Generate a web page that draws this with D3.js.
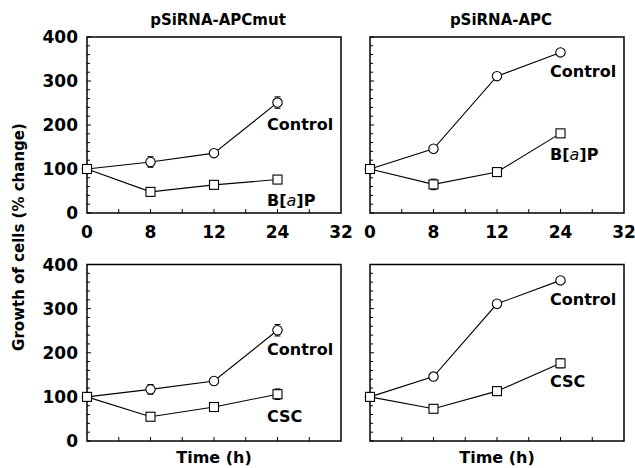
<!DOCTYPE html>
<html><head><meta charset="utf-8">
<script src="https://cdn.jsdelivr.net/npm/d3@7"></script>
<style>body{margin:0;background:#fff}svg{display:block}text{font-family:"DejaVu Sans",Verdana,sans-serif;font-weight:bold;fill:#000}</style>
</head><body><svg id="c" width="635" height="468"></svg>
<script>
const timeLabels = ["0","8","12","24","32"];
const times = ["0","8","12","24"];
const yTicks = [0,100,200,300,400];
const titles = ["pSiRNA-APCmut","pSiRNA-APC"];

const mutControlA = [100,116,136,251];
const mutControlAErr = [6,12,5,13];
const mutBaP = [100,48,64,76];
const mutBaPErr = [5,4,8,3];
const apcControlA = [100,146,311,365];
const apcControlAErr = [5,3,4,3];
const apcBaP = [100,65,93,181];
const apcBaPErr = [5,12,4,3];
const mutControlB = [100,117,136,251];
const mutControlBErr = [6,11,4,13];
const mutCSC = [100,55,77,106];
const mutCSCErr = [5,8,6,12];
const apcControlB = [100,146,311,364];
const apcControlBErr = [5,3,4,3];
const apcCSC = [100,73,113,176];
const apcCSCErr = [5,7,4,10];

const svg = d3.select("#c");
const cols = [{l:87,r:341},{l:370,r:624}];
const rows = [{t:37,b:213},{t:264.5,b:441}];

const panels = [
  {c:0,r:0,ctrl:mutControlA,ce:mutControlAErr,trt:mutBaP,te:mutBaPErr,trtLab:"bap",ctrlLab:[267,124],trtLabPos:[267,200]},
  {c:1,r:0,ctrl:apcControlA,ce:apcControlAErr,trt:apcBaP,te:apcBaPErr,trtLab:"bap",ctrlLab:[550,71],trtLabPos:[550,154]},
  {c:0,r:1,ctrl:mutControlB,ce:mutControlBErr,trt:mutCSC,te:mutCSCErr,trtLab:"CSC",ctrlLab:[267,349],trtLabPos:[267,416]},
  {c:1,r:1,ctrl:apcControlB,ce:apcControlBErr,trt:apcCSC,te:apcCSCErr,trtLab:"CSC",ctrlLab:[550,299],trtLabPos:[550,381]}
];

panels.forEach(p=>{
  const C = cols[p.c], R = rows[p.r];
  const x = d3.scalePoint().domain(timeLabels).range([C.l,C.r]).padding(0);
  const y = d3.scaleLinear().domain([0,400]).range([R.b,R.t]);
  const g = svg.append("g");
  g.append("rect").attr("x",C.l).attr("y",R.t).attr("width",C.r-C.l).attr("height",R.b-R.t)
    .attr("fill","none").attr("stroke","#000").attr("stroke-width",1.5);
  const yMinor = d3.range(0,401,20);
  g.selectAll(".yt").data(yMinor).join("line")
    .attr("x1",C.l).attr("x2",d=>C.l+(d%100===0?4:3))
    .attr("y1",d=>y(d)).attr("y2",d=>y(d)).attr("stroke","#000").attr("stroke-width",1);
  const xs = timeLabels.map(t=>x(t));
  const xt = [];
  for(let i=0;i<xs.length-1;i++){xt.push(xs[i]);xt.push((xs[i]+xs[i+1])/2);}
  xt.push(xs[xs.length-1]);
  g.selectAll(".xt").data(xt.slice(1,-1)).join("line")
    .attr("x1",d=>d).attr("x2",d=>d).attr("y1",R.b).attr("y2",R.b-4)
    .attr("stroke","#000").attr("stroke-width",1);
  if(p.c===0){
    g.selectAll(".yl").data(yTicks).join("text")
      .attr("x",C.l-9).attr("y",d=>y(d)).attr("dy","0.36em").attr("text-anchor","end")
      .style("font-size","17px").text(d=>d);
  }
  if(p.r===0){
    g.selectAll(".xl").data(timeLabels).join("text")
      .attr("x",d=>x(d)).attr("y",R.b+25).attr("text-anchor","middle")
      .style("font-size","17px").text(d=>d);
    g.append("text").attr("x",(C.l+C.r)/2+4).attr("y",25).attr("text-anchor","middle")
      .style("font-size","15px").text(titles[p.c]);
  } else {
    g.append("text").attr("x",(C.l+C.r)/2).attr("y",463).attr("text-anchor","middle")
      .style("font-size","16px").text("Time (h)");
  }
  const line = d3.line().x((d,i)=>x(times[i])).y(d=>y(d));
  [[p.ctrl,p.ce,"circle"],[p.trt,p.te,"square"]].forEach(([vals,errs,shape])=>{
    g.append("path").attr("d",line(vals)).attr("fill","none").attr("stroke","#000").attr("stroke-width",1.1);
    vals.forEach((v,i)=>{
      const cx=x(times[i]), e=errs[i];
      g.append("line").attr("x1",cx).attr("x2",cx).attr("y1",y(v+e)).attr("y2",y(v-e)).attr("stroke","#000");
      [v+e,v-e].forEach(w=>g.append("line").attr("x1",cx-3).attr("x2",cx+3).attr("y1",y(w)).attr("y2",y(w)).attr("stroke","#000"));
    });
    vals.forEach((v,i)=>{
      const cx=x(times[i]), cy=y(v);
      if(shape==="circle") g.append("circle").attr("cx",cx).attr("cy",cy).attr("r",4.7).attr("fill","#fff").attr("stroke","#000").attr("stroke-width",1.1);
      else g.append("rect").attr("x",cx-4.5).attr("y",cy-4.5).attr("width",9).attr("height",9).attr("fill","#fff").attr("stroke","#000").attr("stroke-width",1.1);
    });
  });
  g.append("text").attr("x",p.ctrlLab[0]).attr("y",p.ctrlLab[1]).attr("dy","0.36em").style("font-size","16px").text("Control");
  const t = g.append("text").attr("x",p.trtLabPos[0]).attr("y",p.trtLabPos[1]).attr("dy","0.36em").style("font-size","16px");
  if(p.trtLab==="bap"){
    t.append("tspan").text("B[");
    t.append("tspan").style("font-style","italic").style("font-weight","normal").text("a");
    t.append("tspan").text("]P");
  } else t.text(p.trtLab);
});

svg.append("text").attr("transform","translate(24,237) rotate(-90)").attr("text-anchor","middle")
  .style("font-size","15px").text("Growth of cells (% change)");
</script></body></html>
